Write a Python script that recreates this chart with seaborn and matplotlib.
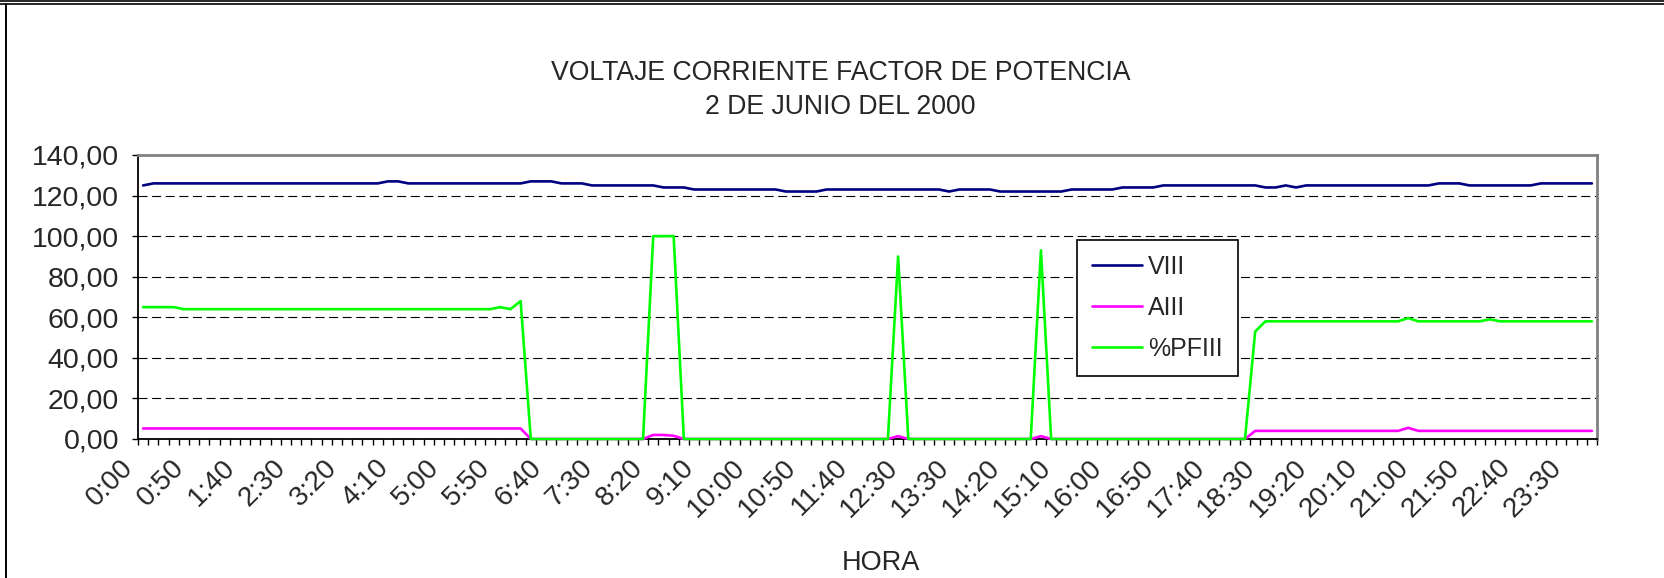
import matplotlib
matplotlib.use("Agg")
import matplotlib.pyplot as plt
from matplotlib.lines import Line2D
from matplotlib.transforms import ScaledTranslation
import numpy as np
import pandas as pd
import seaborn as sns

# Sampling times (10-minute log, one reading missing after 12:40)
HORAS = [
    "0:00", "0:10", "0:20", "0:30", "0:40", "0:50", "1:00", "1:10", "1:20", "1:30", "1:40", "1:50",
    "2:00", "2:10", "2:20", "2:30", "2:40", "2:50", "3:00", "3:10", "3:20", "3:30", "3:40", "3:50",
    "4:00", "4:10", "4:20", "4:30", "4:40", "4:50", "5:00", "5:10", "5:20", "5:30", "5:40", "5:50",
    "6:00", "6:10", "6:20", "6:30", "6:40", "6:50", "7:00", "7:10", "7:20", "7:30", "7:40", "7:50",
    "8:00", "8:10", "8:20", "8:30", "8:40", "8:50", "9:00", "9:10", "9:20", "9:30", "9:40", "9:50",
    "10:00", "10:10", "10:20", "10:30", "10:40", "10:50", "11:00", "11:10", "11:20", "11:30", "11:40", "11:50",
    "12:00", "12:10", "12:20", "12:30", "12:40", "13:00", "13:10", "13:20", "13:30", "13:40", "13:50",
    "14:00", "14:10", "14:20", "14:30", "14:40", "14:50", "15:00", "15:10", "15:20", "15:30", "15:40", "15:50",
    "16:00", "16:10", "16:20", "16:30", "16:40", "16:50", "17:00", "17:10", "17:20", "17:30", "17:40", "17:50",
    "18:00", "18:10", "18:20", "18:30", "18:40", "18:50", "19:00", "19:10", "19:20", "19:30", "19:40", "19:50",
    "20:00", "20:10", "20:20", "20:30", "20:40", "20:50", "21:00", "21:10", "21:20", "21:30", "21:40", "21:50",
    "22:00", "22:10", "22:20", "22:30", "22:40", "22:50", "23:00", "23:10", "23:20", "23:30", "23:40", "23:50",
]

TICK_LABELS = [
    "0:00", "0:50", "1:40", "2:30", "3:20", "4:10", "5:00", "5:50", "6:40", "7:30",
    "8:20", "9:10", "10:00", "10:50", "11:40", "12:30", "13:30", "14:20", "15:10", "16:00",
    "16:50", "17:40", "18:30", "19:20", "20:10", "21:00", "21:50", "22:40", "23:30",
]

# Three-phase voltage (V)
VIII = [
    125, 126, 126, 126, 126, 126, 126, 126, 126, 126, 126, 126,
    126, 126, 126, 126, 126, 126, 126, 126, 126, 126, 126, 126,
    127, 127, 126, 126, 126, 126, 126, 126, 126, 126, 126, 126,
    126, 126, 127, 127, 127, 126, 126, 126, 125, 125, 125, 125,
    125, 125, 125, 124, 124, 124, 123, 123, 123, 123, 123, 123,
    123, 123, 123, 122, 122, 122, 122, 123, 123, 123, 123, 123,
    123, 123, 123, 123, 123, 123, 123, 122, 123, 123, 123, 123,
    122, 122, 122, 122, 122, 122, 122, 123, 123, 123, 123, 123,
    124, 124, 124, 124, 125, 125, 125, 125, 125, 125, 125, 125,
    125, 125, 124, 124, 125, 124, 125, 125, 125, 125, 125, 125,
    125, 125, 125, 125, 125, 125, 125, 126, 126, 126, 125, 125,
    125, 125, 125, 125, 125, 126, 126, 126, 126, 126, 126,
]

# Three-phase current (A)
AIII = [
    5.2, 5.2, 5.2, 5.2, 5.2, 5.2, 5.2, 5.2, 5.2, 5.2, 5.2, 5.2,
    5.2, 5.2, 5.2, 5.2, 5.2, 5.2, 5.2, 5.2, 5.2, 5.2, 5.2, 5.2,
    5.2, 5.2, 5.2, 5.2, 5.2, 5.2, 5.2, 5.2, 5.2, 5.2, 5.2, 5.2,
    5.2, 5.2, 0, 0, 0, 0, 0, 0, 0, 0, 0, 0,
    0, 0, 2.0, 2.0, 1.6, 0, 0, 0, 0, 0, 0, 0,
    0, 0, 0, 0, 0, 0, 0, 0, 0, 0, 0, 0,
    0, 0, 1.4, 0, 0, 0, 0, 0, 0, 0, 0, 0,
    0, 0, 0, 0, 1.4, 0, 0, 0, 0, 0, 0, 0,
    0, 0, 0, 0, 0, 0, 0, 0, 0, 0, 0, 0,
    0, 4.0, 4.0, 4.0, 4.0, 4.0, 4.0, 4.0, 4.0, 4.0, 4.0, 4.0,
    4.0, 4.0, 4.0, 4.0, 5.5, 4.0, 4.0, 4.0, 4.0, 4.0, 4.0, 4.0,
    4.0, 4.0, 4.0, 4.0, 4.0, 4.0, 4.0, 4.0, 4.0, 4.0, 4.0,
]

# Three-phase power factor (%)
PFIII = [
    65, 65, 65, 65, 64, 64, 64, 64, 64, 64, 64, 64,
    64, 64, 64, 64, 64, 64, 64, 64, 64, 64, 64, 64,
    64, 64, 64, 64, 64, 64, 64, 64, 64, 64, 64, 65,
    64, 68, 0, 0, 0, 0, 0, 0, 0, 0, 0, 0,
    0, 0, 100, 100, 100, 0, 0, 0, 0, 0, 0, 0,
    0, 0, 0, 0, 0, 0, 0, 0, 0, 0, 0, 0,
    0, 0, 90, 0, 0, 0, 0, 0, 0, 0, 0, 0,
    0, 0, 0, 0, 93, 0, 0, 0, 0, 0, 0, 0,
    0, 0, 0, 0, 0, 0, 0, 0, 0, 0, 0, 0,
    0, 53, 58, 58, 58, 58, 58, 58, 58, 58, 58, 58,
    58, 58, 58, 58, 59.6, 58, 58, 58, 58, 58, 58, 58,
    59, 58, 58, 58, 58, 58, 58, 58, 58, 58, 58,
]

SERIES = ["VIII", "AIII", "%PFIII"]
COLORS = ["#000080", "#FF00FF", "#00FF00"]

sns.set_theme(style="white")
plt.rcParams["font.family"] = ["Liberation Sans", "DejaVu Sans"]
plt.rcParams["lines.scale_dashes"] = False

df = pd.DataFrame({"HORA": HORAS, "VIII": VIII, "AIII": AIII, "%PFIII": PFIII})
df["pos"] = np.arange(len(df))
long_df = df.melt(id_vars=["HORA", "pos"], value_vars=SERIES,
                  var_name="serie", value_name="valor")

W, H = 1664, 578
fig = plt.figure(figsize=(W / 100, H / 100), dpi=100)
L, R, T, B = 138, 1597, 155, 439
ax = fig.add_axes([L / W, 1 - B / H, (R - L) / W, (B - T) / H])

sns.lineplot(data=long_df, x="pos", y="valor", hue="serie", hue_order=SERIES,
             palette=COLORS, linewidth=1.9, estimator=None, legend=False,
             ax=ax, zorder=4, clip_on=False)

n = len(HORAS)
ax.set_xlim(-0.5, n - 0.5)
ax.set_ylim(0, 140)

# y axis: comma decimal labels, dashed horizontal guides
yvals = list(range(0, 141, 20))
ax.set_yticks(yvals)
ax.set_yticklabels([f"{v:.2f}".replace(".", ",") for v in yvals])
for v in yvals[1:-1]:
    ax.axhline(v, color="black", lw=0.8, dashes=(6.5, 3.3), zorder=1)

# x axis: one tick mark per sample, a label every fifth sample
ax.set_xticks(np.arange(-0.5, n, 1.0), minor=True)
ax.set_xticks([HORAS.index(t) for t in TICK_LABELS])
ax.set_xticklabels(TICK_LABELS)
ax.set_xlabel("")
ax.set_ylabel("")

ax.tick_params(axis="y", which="major", direction="out", length=4.5, width=1,
               color="black", labelsize=20.5, pad=9, left=True)
ax.tick_params(axis="x", which="major", length=0, labelsize=20, pad=11, bottom=True)
ax.tick_params(axis="x", which="minor", direction="out", length=4.5, width=1,
               color="black", bottom=True)

shift = ScaledTranslation(-0.23, 0, fig.dpi_scale_trans)
for lbl in ax.get_xticklabels():
    lbl.set_rotation(45)
    lbl.set_ha("right")
    lbl.set_va("top")
    lbl.set_rotation_mode("anchor")
    lbl.set_transform(lbl.get_transform() + shift)

for side in ("left", "bottom"):
    ax.spines[side].set_color("black")
    ax.spines[side].set_linewidth(1.3)
for side in ("top", "right"):
    ax.spines[side].set_color("#808080")
    ax.spines[side].set_linewidth(2.0)

# Titles
fig.text(0.505, 1 - 73 / H, "VOLTAJE CORRIENTE FACTOR DE POTENCIA",
         ha="center", va="center", fontsize=19.2)
fig.text(0.505, 1 - 107 / H, "2 DE JUNIO DEL 2000",
         ha="center", va="center", fontsize=19.2)
fig.text(881 / W, 1 - 563 / H, "HORA", ha="center", va="center", fontsize=19.5)

# Legend
handles = [Line2D([0], [0], color=c, lw=1.9) for c in COLORS]
leg = fig.legend(handles, SERIES, loc="upper left",
                 bbox_to_anchor=(1077 / W, 1 - 240 / H), bbox_transform=fig.transFigure,
                 frameon=True, fancybox=False, edgecolor="black", framealpha=1,
                 fontsize=18, handlelength=2.0, handletextpad=0.25,
                 labelspacing=0.68, borderpad=0.6, borderaxespad=0)
leg.get_frame().set_linewidth(1.2)

# Chart frame
fig.add_artist(Line2D([0, 1], [1 - 0.8 / H] * 2, color="black", lw=1.2,
                      transform=fig.transFigure))
fig.add_artist(Line2D([0, 1], [1 - 3.8 / H] * 2, color="black", lw=1.2,
                      transform=fig.transFigure))
fig.add_artist(Line2D([6 / W] * 2, [0, 1 - 3.8 / H], color="black", lw=1.4,
                      transform=fig.transFigure))

fig.savefig("out.png", dpi=100)
